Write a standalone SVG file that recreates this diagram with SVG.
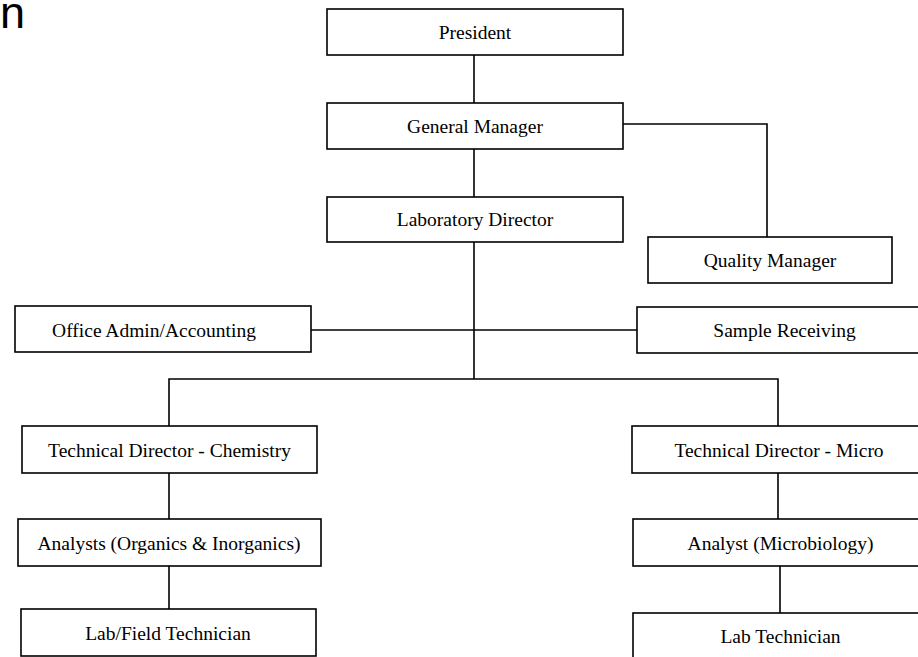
<svg xmlns="http://www.w3.org/2000/svg" width="918" height="657" viewBox="0 0 918 657">
<style>
.box{fill:#fff;stroke:#000;stroke-width:1.6}
.lbl{font-family:"Liberation Serif","Times New Roman",serif;font-size:19.5px;fill:#000;text-anchor:middle}
.ln{fill:none;stroke:#000;stroke-width:1.6}
</style>
<rect width="918" height="657" fill="#fff"/>
<text x="25" y="28" font-family="Liberation Sans, Arial, sans-serif" font-size="45" text-anchor="end" fill="#000">n</text>
<g id="connectors">
<path class="ln" d="M474 55V103"/>
<path class="ln" d="M474 149V197"/>
<path class="ln" d="M623 124H767V237"/>
<path class="ln" d="M474 242V379"/>
<path class="ln" d="M311 330H637"/>
<path class="ln" d="M169 426V379H778V426"/>
<path class="ln" d="M169 473V519"/>
<path class="ln" d="M169 566V609"/>
<path class="ln" d="M778 473V519"/>
<path class="ln" d="M780 566V613"/>
</g>
<g id="president"><rect class="box" x="327" y="9" width="296" height="46"/><text class="lbl" x="475" y="39">President</text></g>
<g id="general-manager"><rect class="box" x="327" y="103" width="296" height="46"/><text class="lbl" x="475" y="133">General Manager</text></g>
<g id="laboratory-director"><rect class="box" x="327" y="197" width="296" height="45"/><text class="lbl" x="475" y="226">Laboratory Director</text></g>
<g id="quality-manager"><rect class="box" x="648" y="237" width="244" height="46"/><text class="lbl" x="770" y="267">Quality Manager</text></g>
<g id="office-admin"><rect class="box" x="15" y="306" width="296" height="46"/><text class="lbl" x="154" y="337">Office Admin/Accounting</text></g>
<g id="sample-receiving"><rect class="box" x="637" y="307" width="300" height="46"/><text class="lbl" x="784.5" y="337">Sample Receiving</text></g>
<g id="td-chemistry"><rect class="box" x="22" y="426" width="295" height="47"/><text class="lbl" x="169.5" y="457">Technical Director - Chemistry</text></g>
<g id="analysts-chem"><rect class="box" x="18" y="519" width="303" height="47"/><text class="lbl" x="169" y="550">Analysts (Organics &amp; Inorganics)</text></g>
<g id="lab-field-tech"><rect class="box" x="21" y="609" width="295" height="47"/><text class="lbl" x="168" y="640">Lab/Field Technician</text></g>
<g id="td-micro"><rect class="box" x="632" y="426" width="300" height="47"/><text class="lbl" x="779" y="457">Technical Director - Micro</text></g>
<g id="analyst-micro"><rect class="box" x="633" y="519" width="300" height="47"/><text class="lbl" x="780.5" y="550">Analyst (Microbiology)</text></g>
<g id="lab-tech"><rect class="box" x="633" y="613" width="300" height="60"/><text class="lbl" x="780.5" y="643">Lab Technician</text></g>
</svg>
